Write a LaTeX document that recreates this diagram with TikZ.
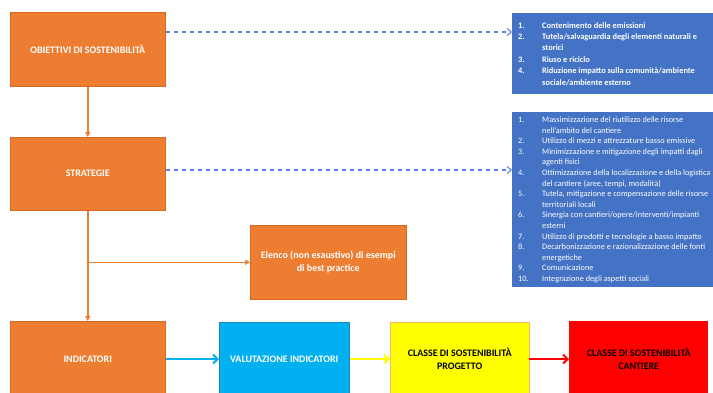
\documentclass[tikz,border=0pt]{standalone}
\usepackage{fontspec}
\setmainfont{Carlito}
\usetikzlibrary{arrows.meta}
\definecolor{orng}{HTML}{ED7D31}
\definecolor{orngdk}{HTML}{D9691F}
\definecolor{bluebox}{HTML}{4472C4}
\definecolor{dashblue}{HTML}{5B84E0}
\definecolor{lightblue}{HTML}{00B0F0}
\definecolor{lightbluedk}{HTML}{1F7FC0}
\definecolor{ylw}{HTML}{FFFF00}
\definecolor{rd}{HTML}{FF0000}
\tikzset{
  obox/.style={fill=orng, draw=orngdk, line width=0.5bp, text=white, font=\fontsize{10}{13}\selectfont\bfseries, align=center},
  bbox/.style={fill=bluebox, draw=none},
  oline/.style={draw=orng, line width=1.5bp},
  oarrow/.style={oline, -{Triangle[length=5bp,width=5bp]}},
  darrow/.style={draw=dashblue, line width=1.1bp, dash pattern=on 4bp off 4bp, -{Straight Barb[length=4bp,width=7bp]}},
  carrow/.style={line width=2bp, -{Straight Barb[length=4.5bp,width=9bp]}},
}
\newcommand{\li}[2]{\hbox{\makebox[24bp][l]{#1}#2}}
\newcommand{\lc}[1]{\hbox{\hspace*{24bp}#1}}
\begin{document}
\begin{tikzpicture}[x=1bp,y=-1bp]
\clip (0,0) rectangle (713,392);
\fill[white] (0,0) rectangle (713,392);
% orange boxes
\node[obox, minimum width=155bp, minimum height=74bp, anchor=north west] (obj) at (10,12) {OBIETTIVI DI SOSTENIBILITÀ};
\node[obox, minimum width=155bp, minimum height=73bp, anchor=north west] (str) at (10,137) {STRATEGIE};
\node[obox, minimum width=156bp, minimum height=74bp, anchor=north west] (ele) at (250,225) {Elenco (non esaustivo) di esempi\\di best practice};
\node[obox, minimum width=155bp, minimum height=76bp, anchor=north west] (ind) at (10,321) {INDICATORI};
% bottom row
\node[fill=lightblue, draw=lightbluedk, line width=0.5bp, text=white, font=\fontsize{10}{13}\selectfont\bfseries, minimum width=130bp, minimum height=75bp, anchor=north west] (val) at (219,322) {VALUTAZIONE INDICATORI};
\node[fill=ylw, draw=orange!60, line width=0.4bp, text=black, align=center, font=\fontsize{10}{13}\selectfont\bfseries, minimum width=139bp, minimum height=74bp, anchor=north west] (prog) at (390,322) {CLASSE DI SOSTENIBILITÀ\\PROGETTO};
\node[fill=rd, draw=none, text=black, align=center, font=\fontsize{10}{13}\selectfont\bfseries, minimum width=139bp, minimum height=76bp, anchor=north west] (cant) at (569,321) {CLASSE DI SOSTENIBILITÀ\\CANTIERE};
% blue boxes
\node[bbox, minimum width=203bp, minimum height=81bp, anchor=north west] (b1) at (512,13) {};
\node[bbox, minimum width=203bp, minimum height=175bp, anchor=north west] (b2) at (512,112) {};
\node[anchor=base west, inner sep=0pt, text=white, font=\fontsize{8.4}{11.5}\selectfont\bfseries] (l1) at (518,28) {\vtop{%
\li{1.}{Contenimento delle emissioni}
\li{2.}{Tutela/salvaguardia degli elementi naturali e}
\lc{storici}
\li{3.}{Riuso e riciclo}
\li{4.}{Riduzione impatto sulla comunità/ambiente}
\lc{sociale/ambiente esterno}}};
\node[anchor=base west, inner sep=0pt, text=white, font=\fontsize{8.3}{10.64}\selectfont] (l2) at (518,122.5) {\vtop{%
\li{1.}{Massimizzazione del riutilizzo delle risorse}
\lc{nell'ambito del cantiere}
\li{2.}{Utilizzo di mezzi e attrezzature basso emissive}
\li{3.}{Minimizzazione e mitigazione degli impatti dagli}
\lc{agenti fisici}
\li{4.}{Ottimizzazione della localizzazione e della logistica}
\lc{del cantiere (aree, tempi, modalità)}
\li{5.}{Tutela, mitigazione e compensazione delle risorse}
\lc{territoriali locali}
\li{6.}{Sinergia con cantieri/opere/interventi/impianti}
\lc{esterni}
\li{7.}{Utilizzo di prodotti e tecnologie a basso impatto}
\li{8.}{Decarbonizzazione e razionalizzazione delle fonti}
\lc{energetiche}
\li{9.}{Comunicazione}
\li{10.}{Integrazione degli aspetti sociali}}};
% connectors
\draw[oarrow] (obj.south) -- (str.north);
\draw[oarrow] (str.south) -- (str.south |- ind.north);
\coordinate (br) at (str.south |- ele.west);
\draw[oarrow] (br) -- (ele.west);
\draw[darrow] (obj.east |- 0,32) -- (b1.west |- 0,32);
\draw[darrow] (str.east |- 0,170) -- (b2.west |- 0,170);
\draw[carrow, draw=lightblue] (ind.east |- 0,359) -- (val.west |- 0,359);
\draw[carrow, draw=ylw] (val.east |- 0,359) -- (prog.west |- 0,359);
\draw[carrow, draw=rd] (prog.east |- 0,359) -- (cant.west |- 0,359);
\end{tikzpicture}
\end{document}
